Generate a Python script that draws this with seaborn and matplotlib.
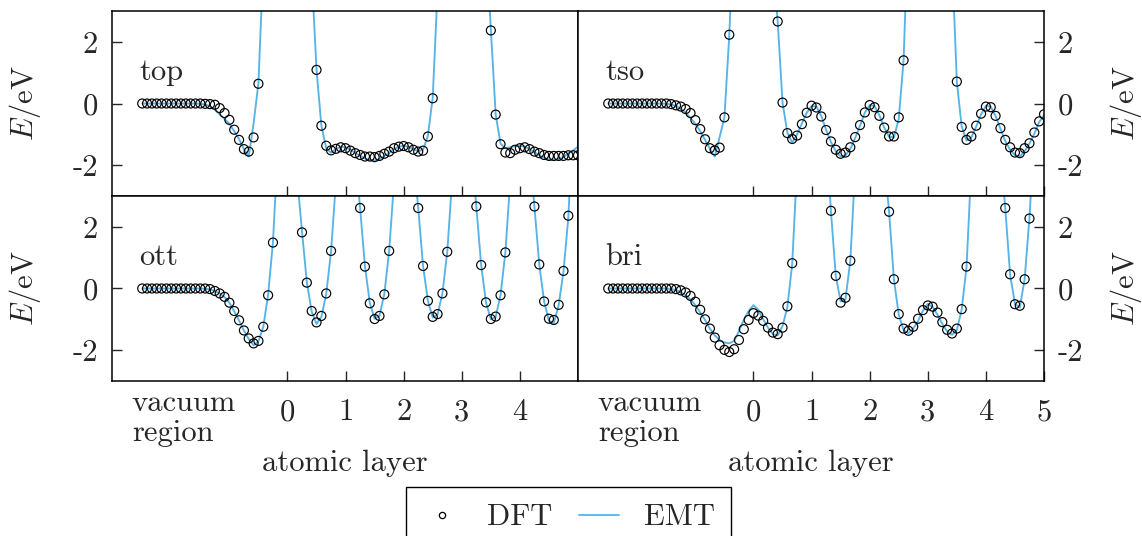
"""
Binding energy of an adatom approaching a slab along four paths
(top, tso, ott, bri): DFT points against the EMT curve.
"""

import matplotlib

matplotlib.use("Agg")

import matplotlib.pyplot as plt
import matplotlib.transforms as mtransforms
import numpy as np
import pandas as pd
import seaborn as sns
from matplotlib.lines import Line2D

# samples lie every 1/12 of a layer, from the vacuum side to layer 5
GRID_FIRST: int = -30
GRID_LAST: int = 60
GRID_STEP: float = 1 / 12

SITES = ["top", "tso", "ott", "bri"]

# values above 3 eV run off the top of the frame
TOP_DFT = [
    0, 0, 0, 0, 0, 0, 0, 0, 0, 0, 0, 0, 0,
    -0.01, -0.02, -0.04, -0.15, -0.31, -0.53, -0.85, -1.18, -1.48, -1.56, -1.10, 0.64,
    4.5, 8, 11, 13, 14.5, 15, 14.5, 13, 11, 8, 4.2,
    1.09, -0.72, -1.37, -1.52, -1.47, -1.42, -1.45, -1.53, -1.61, -1.67,
    -1.72, -1.72, -1.74, -1.70, -1.63, -1.56, -1.45, -1.40, -1.38, -1.42,
    -1.50, -1.56, -1.53, -1.07, 0.17,
    3.7, 7, 10, 12.5, 14, 14.5, 14, 12.5, 10, 7.5, 5.4,
    2.37, -0.36, -1.32, -1.59, -1.61, -1.50, -1.45, -1.42, -1.48, -1.56,
    -1.61, -1.67, -1.70, -1.70, -1.70, -1.70, -1.68, -1.68, -1.68,
]
TOP_EMT = [
    0, 0, 0, 0, 0, 0, 0, 0, 0, 0, 0, 0,
    -0.01, -0.03, -0.09, -0.20, -0.35, -0.50, -0.66, -0.90, -1.15, -1.48, -1.72, -0.65, 0.66,
    4.5, 8, 11, 13, 14.5, 15, 14.5, 13, 11, 8, 4.2,
    1.09, -0.72, -1.45, -1.60, -1.48, -1.40, -1.42, -1.50, -1.60, -1.70,
    -1.78, -1.83, -1.85, -1.80, -1.70, -1.60, -1.48, -1.40, -1.37, -1.40,
    -1.48, -1.55, -1.50, -1.05, 0.20,
    3.7, 7, 10, 12.5, 14, 14.5, 14, 12.5, 10, 7.5, 5.4,
    2.40, -0.36, -1.30, -1.45, -1.42, -1.38, -1.37, -1.40, -1.48, -1.58,
    -1.68, -1.76, -1.82, -1.84, -1.80, -1.73, -1.62, -1.52, -1.40,
]

TSO_DFT = [
    0, 0, 0, 0, 0, 0, 0, 0, 0, 0, 0, 0, 0,
    -0.02, -0.06, -0.10, -0.18, -0.31, -0.54, -0.83, -1.16, -1.45, -1.52, -1.43, -0.45, 2.23,
    6.0, 10, 13, 14.5, 15, 14.5, 13, 10, 4.5,
    2.66, 0.03, -0.96, -1.15, -1.04, -0.67, -0.30, -0.07, -0.13, -0.42,
    -0.86, -1.23, -1.50, -1.63, -1.59, -1.42, -1.09, -0.70, -0.29, -0.05,
    -0.12, -0.40, -0.78, -1.07, -1.07, -0.45, 1.40,
    6.0, 10, 13, 14.5, 15, 14.5, 13, 10, 7, 4.7,
    0.71, -0.76, -1.18, -1.07, -0.72, -0.33, -0.10, -0.12, -0.40, -0.80,
    -1.18, -1.42, -1.59, -1.61, -1.45, -1.29, -0.94, -0.58, -0.35,
]
TSO_EMT = [
    0, 0, 0, 0, 0, 0, 0, 0, 0, 0, 0, 0,
    -0.01, -0.03, -0.08, -0.17, -0.30, -0.47, -0.66, -0.90, -1.18, -1.47, -1.72, -1.10, -0.45, 2.20,
    6.0, 10, 13, 14.5, 15, 14.5, 13, 10, 4.5,
    2.66, 0.03, -0.95, -1.27, -1.00, -0.65, -0.30, -0.08, -0.10, -0.40,
    -0.85, -1.25, -1.55, -1.72, -1.68, -1.48, -1.12, -0.72, -0.30, -0.05,
    -0.08, -0.38, -0.78, -1.07, -1.10, -0.50, 1.40,
    6.0, 10, 13, 14.5, 15, 14.5, 13, 10, 7, 4.7,
    0.70, -0.75, -1.20, -1.10, -0.75, -0.35, -0.08, -0.10, -0.40, -0.82,
    -1.22, -1.50, -1.68, -1.72, -1.55, -1.30, -0.98, -0.60, -0.38,
]

OTT_DFT = [
    0, 0, 0, 0, 0, 0, 0, 0, 0, 0, 0, 0, 0, 0,
    -0.02, -0.08, -0.16, -0.27, -0.46, -0.73, -1.03, -1.36, -1.62, -1.78, -1.70, -1.24, -0.22, 1.49,
    4.5, 8, 9, 8, 3.6,
    1.82, 0.19, -0.73, -1.10, -0.89, -0.16, 1.22,
    3.45, 7, 8.5, 7, 4.4,
    2.61, 0.71, -0.48, -0.99, -0.89, -0.19, 1.22,
    3.45, 7, 8.5, 7, 4.4,
    2.61, 0.73, -0.40, -0.92, -0.83, -0.16, 1.19,
    3.5, 7, 8.5, 7, 4.4,
    2.66, 0.76, -0.45, -0.99, -0.91, -0.22, 1.17,
    3.5, 7, 8.5, 7, 4.4,
    2.66, 0.78, -0.42, -0.98, -1.02, -0.53, 0.57, 2.36,
    5.6, 9,
]
OTT_EMT = [
    0, 0, 0, 0, 0, 0, 0, 0, 0, 0, 0, 0, 0,
    -0.01, -0.03, -0.08, -0.16, -0.28, -0.46, -0.74, -1.04, -1.36, -1.64, -1.84, -1.72, -1.25, -0.20, 1.50,
    4.5, 8, 9, 8, 3.6,
    1.85, 0.20, -0.75, -1.15, -0.92, -0.18, 1.20,
    3.45, 7, 8.5, 7, 4.4,
    2.61, 0.72, -0.47, -0.98, -0.88, -0.18, 1.22,
    3.45, 7, 8.5, 7, 4.4,
    2.61, 0.73, -0.40, -0.94, -0.84, -0.16, 1.19,
    3.5, 7, 8.5, 7, 4.4,
    2.66, 0.76, -0.45, -1.00, -0.92, -0.22, 1.17,
    3.5, 7, 8.5, 7, 4.4,
    2.66, 0.78, -0.42, -1.05, -1.12, -0.55, 0.55, 2.30,
    5.6, 9,
]

BRI_DFT = [
    0, 0, 0, 0, 0, 0, 0, 0, 0, 0, 0, 0, 0, 0,
    -0.02, -0.06, -0.13, -0.24, -0.43, -0.69, -1.00, -1.30, -1.59, -1.84,
    -1.99, -2.06, -1.97, -1.67, -1.32, -1.02, -0.80, -0.88, -1.05, -1.27,
    -1.43, -1.48, -1.27, -0.58, 0.82,
    3.96, 7, 9, 10, 9, 7, 5.2,
    2.52, 0.41, -0.46, -0.30, 0.90,
    3.9, 7, 9, 10, 9, 7, 4.2,
    2.49, 0.30, -0.83, -1.30, -1.37, -1.24, -0.98, -0.70, -0.55, -0.59,
    -0.78, -1.09, -1.34, -1.46, -1.30, -0.67, 0.71,
    4.0, 7, 9, 10, 9, 7, 4.5,
    2.61, 0.46, -0.51, -0.56, 0.30, 2.27,
    5.0, 8, 10,
]
BRI_EMT = [
    0, 0, 0, 0, 0, 0, 0, 0, 0, 0, 0, 0, 0,
    -0.02, -0.05, -0.12, -0.22, -0.36, -0.54, -0.78, -1.02, -1.30, -1.52, -1.67,
    -1.75, -1.78, -1.70, -1.38, -1.02, -0.73, -0.54, -0.69, -1.00, -1.27,
    -1.48, -1.52, -1.22, -0.60, 0.80,
    3.96, 7, 9, 10, 9, 7, 5.2,
    2.50, 0.40, -0.42, -0.35, 0.90,
    3.9, 7, 9, 10, 9, 7, 4.2,
    2.50, 0.30, -0.85, -1.35, -1.45, -1.30, -1.05, -0.72, -0.50, -0.60,
    -0.85, -1.15, -1.40, -1.50, -1.35, -0.68, 0.70,
    4.0, 7, 9, 10, 9, 7, 4.5,
    2.60, 0.45, -0.50, -0.62, 0.30, 2.30,
    5.0, 8, 10,
]

DFT_VALUES = [TOP_DFT, TSO_DFT, OTT_DFT, BRI_DFT]
EMT_VALUES = [TOP_EMT, TSO_EMT, OTT_EMT, BRI_EMT]

EMT_COLOR: str = "#56b4e9"
FONT_SIZE: float = 22

FIG_W, FIG_H = 1142, 536
LEFT_X, RIGHT_X, PANEL_W = 112, 578, 466
TOP_Y, MID_Y, PANEL_H = 11, 196, 185


def build_frame() -> pd.DataFrame:
    layer = np.arange(GRID_FIRST, GRID_LAST + 1) * GRID_STEP
    frames = []
    for site, dft, emt in zip(SITES, DFT_VALUES, EMT_VALUES):
        frames.append(pd.DataFrame({"site": site, "layer": layer, "DFT": dft, "EMT": emt}))
    return pd.concat(frames, ignore_index=True)


def create_figure() -> None:
    sns.set_style("ticks")
    plt.rcParams["font.family"] = ["cmr10", "DejaVu Serif"]
    plt.rcParams["mathtext.fontset"] = "cm"
    plt.rcParams["axes.unicode_minus"] = False
    plt.rcParams["font.size"] = FONT_SIZE

    data = build_frame()
    fig = plt.figure(figsize=(FIG_W / 100, FIG_H / 100), dpi=100)

    for i, site in enumerate(SITES):
        row, col = divmod(i, 2)
        x0 = LEFT_X if col == 0 else RIGHT_X
        y0 = TOP_Y + row * PANEL_H
        ax = fig.add_axes([
            x0 / FIG_W,
            1 - (y0 + PANEL_H) / FIG_H,
            PANEL_W / FIG_W,
            PANEL_H / FIG_H,
        ])
        subset = data[data["site"] == site]

        sns.lineplot(data=subset, x="layer", y="EMT", ax=ax, color=EMT_COLOR,
                     linewidth=1.35, estimator=None, sort=False, zorder=2)
        sns.scatterplot(data=subset, x="layer", y="DFT", ax=ax, s=42,
                        facecolors="none", edgecolor="black", linewidth=0.85,
                        zorder=3)

        ax.set_xlim(-3.02, 5.0)
        ax.set_ylim(-3, 3)
        ax.set_yticks([-2, 0, 2], labels=["-2", "0", "2"])
        if col == 0:
            ax.set_xticks([0, 1, 2, 3, 4], labels=["0", "1", "2", "3", "4"])
        else:
            ax.set_xticks([0, 1, 2, 3, 4, 5], labels=["0", "1", "2", "3", "4", "5"])

        ax.tick_params(direction="in", length=7, width=1.0, labelsize=FONT_SIZE,
                       top=False, left=(col == 0), right=(col == 1),
                       labelleft=(col == 0), labelright=(col == 1),
                       labelbottom=(row == 1), pad=10)
        ax.tick_params(axis="x", pad=13)
        for spine in ax.spines.values():
            spine.set_linewidth(1.1)
            spine.set_color("black")

        ax.set_ylabel(r"$E/\mathrm{eV}$", fontsize=FONT_SIZE)
        if col == 0:
            ax.yaxis.set_label_coords(-0.148, 0.5)
        else:
            ax.yaxis.set_label_position("right")
            ax.yaxis.set_label_coords(1.137, 0.5)

        if row == 1:
            ax.set_xlabel("atomic layer", fontsize=FONT_SIZE)
            ax.xaxis.set_label_coords(0.5, -0.37)
            trans = mtransforms.blended_transform_factory(ax.transData, ax.transAxes)
            ax.text(-2.68, -0.16, "vacuum", transform=trans, ha="left",
                    va="baseline", fontsize=FONT_SIZE)
            ax.text(-2.68, -0.322, "region", transform=trans, ha="left",
                    va="baseline", fontsize=FONT_SIZE)
        else:
            ax.set_xlabel("")

        ax.text(-2.55, 1.0, site, ha="left", va="center", fontsize=FONT_SIZE)

    handles = [
        Line2D([], [], marker="o", linestyle="none", markerfacecolor="none",
               markeredgecolor="black", markersize=4.5, markeredgewidth=0.9),
        Line2D([], [], color=EMT_COLOR, linewidth=1.3),
    ]
    fig.legend(handles, ["DFT", "EMT"], loc="upper center",
               bbox_to_anchor=(568.5 / FIG_W, 1 - 487 / FIG_H), ncol=2,
               frameon=True, fancybox=False, edgecolor="black", framealpha=1,
               fontsize=FONT_SIZE, handlelength=1.3, columnspacing=0.9,
               borderpad=0.55, handletextpad=0.8, borderaxespad=0)

    fig.savefig("out.png", dpi=100)


if __name__ == "__main__":
    create_figure()
